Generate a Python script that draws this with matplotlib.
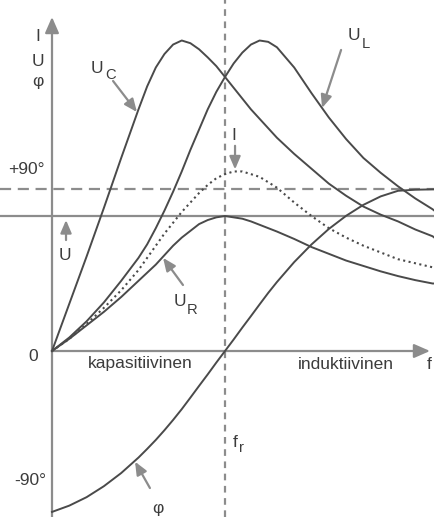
import numpy as np
import matplotlib
matplotlib.use('Agg')
import matplotlib.pyplot as plt

plt.rcParams['font.family'] = ['Liberation Sans', 'DejaVu Sans']

# ─────────────────────────────────────────────
# SERIES RLC RESONANCE CURVES (f in units of f_r, voltages in units of U)
# ─────────────────────────────────────────────
f = [0, 0.1, 0.2, 0.3, 0.4, 0.5, 0.55, 0.6, 0.65, 0.7, 0.75, 0.8, 0.85, 0.9,
     0.95, 1.0, 1.05, 1.1, 1.15, 1.2, 1.25, 1.3, 1.4, 1.5, 1.6, 1.7, 1.8,
     1.9, 2.0, 2.1, 2.2, 2.21]

U_C = [0, 0.35, 0.70, 1.06, 1.43, 1.79, 1.96, 2.10, 2.20, 2.27, 2.30, 2.28,
       2.235, 2.175, 2.11, 2.03, 1.95, 1.87, 1.79, 1.72, 1.65, 1.58, 1.46,
       1.35, 1.24, 1.15, 1.07, 1.01, 0.96, 0.90, 0.85, 0.84]

U_L = [0, 0.10, 0.22, 0.36, 0.52, 0.69, 0.79, 0.91, 1.04, 1.18, 1.33, 1.49,
       1.64, 1.79, 1.92, 2.03, 2.13, 2.21, 2.27, 2.30, 2.29, 2.25, 2.10,
       1.91, 1.73, 1.57, 1.43, 1.32, 1.22, 1.13, 1.05, 1.04]

I = [0, 0.09, 0.20, 0.32, 0.45, 0.60, 0.69, 0.78, 0.87, 0.95, 1.03, 1.10,
     1.17, 1.23, 1.28, 1.31, 1.33, 1.33, 1.31, 1.29, 1.25, 1.21, 1.10,
     1.00, 0.91, 0.84, 0.78, 0.73, 0.68, 0.65, 0.62, 0.62]

U_R = [0, 0.09, 0.19, 0.29, 0.40, 0.52, 0.58, 0.64, 0.71, 0.78, 0.84, 0.89,
       0.94, 0.97, 0.99, 1.00, 0.99, 0.98, 0.96, 0.935, 0.91, 0.885, 0.83,
       0.77, 0.72, 0.67, 0.63, 0.59, 0.555, 0.525, 0.50, 0.50]

phi_deg = [-89.4, -85.9, -81.2, -75.1, -67.8, -59.2, -54.4, -49.4, -44.0,
           -38.3, -32.3, -25.9, -19.4, -13.0, -6.4, 0, 6.4, 13.0, 19.4, 25.9,
           32.3, 38.3, 49.4, 59.2, 67.8, 75.1, 81.2, 85.9, 89.0, 89.6, 89.8,
           89.8]

U = 1.0
PHI90 = 1.2      # height of the +90 deg line on the voltage scale

CURVE = '#4a4a4a'
GUIDE = '#8c8c8c'
TEXT = '#3c3c3c'

fig = plt.figure(figsize=(4.34, 5.17), dpi=100)
ax = fig.add_axes([0, 0, 1, 1])
ax.set_xlim(-0.3006, 2.2081)
ax.set_ylim(-1.2296, 2.6)
ax.axis('off')

# guide lines
ax.axhline(U, color=GUIDE, lw=1.6, zorder=1)
ax.axhline(PHI90, color=GUIDE, lw=1.6, dashes=(5, 3), zorder=1)
ax.axvline(1.0, color=GUIDE, lw=1.6, dashes=(3, 2.5), zorder=1)

# coordinate axes with arrow heads
axis_arrow = dict(arrowstyle='-|>,head_length=0.8,head_width=0.35',
                  color=GUIDE, lw=1.6, shrinkA=0, shrinkB=0, mutation_scale=12)
ax.annotate('', xy=(2.185, 0), xytext=(0, 0), arrowprops=axis_arrow, zorder=2)
ax.annotate('', xy=(0, 2.474), xytext=(0, -1.23), arrowprops=axis_arrow, zorder=2)

# curves
phi_plot = np.array(phi_deg) / 90 * PHI90
for y in (U_C, U_L, U_R):
    ax.plot(f, y, color=CURVE, lw=1.4, solid_joinstyle='round', zorder=3)
ax.plot(f, phi_plot, color=CURVE, lw=1.4, solid_joinstyle='round', zorder=3)
ax.plot(f, I, color=CURVE, lw=1.5, ls=':', zorder=3)

# pointer arrows to the curves
ptr = dict(arrowstyle='-|>,head_length=0.7,head_width=0.3',
           color=GUIDE, lw=1.6, shrinkA=0, shrinkB=0, mutation_scale=11)
for tail, tip in [((0.353, 2.0), (0.491, 1.77)),
                  ((1.671, 2.23), (1.561, 1.80)),
                  ((0.757, 0.489), (0.642, 0.69)),
                  ((0.081, 0.822), (0.081, 0.97)),
                  ((0.566, -1.015), (0.480, -0.82)),
                  ((1.058, 1.52), (1.058, 1.345))]:
    ax.annotate('', xy=tip, xytext=tail, arrowprops=ptr, zorder=4)

fs = 12.5
txt = dict(color=TEXT, fontsize=fs, ha='center', va='center')


def label(x, y, main, sub=None, dx=8.5, dy=-5.5):
    ax.text(x, y, main, **txt)
    if sub:
        ax.annotate(sub, (x, y), xytext=(dx, dy), textcoords='offset points',
                    color=TEXT, fontsize=fs * 0.85, ha='center', va='center')


# axis labels
label(-0.081, 2.326, 'I')
label(-0.081, 2.148, 'U')
label(-0.081, 1.993, 'φ')
label(-0.150, 1.341, '+90°')
label(-0.107, -0.041, '0')
label(-0.127, -0.956, '-90°')
ax.text(0.208, -0.126, 'kapasitiivinen', color=TEXT, fontsize=fs,
        ha='left', va='baseline')
ax.text(1.422, -0.133, 'induktiivinen', color=TEXT, fontsize=fs,
        ha='left', va='baseline')
ax.text(2.168, -0.133, 'f', color=TEXT, fontsize=fs, ha='left', va='baseline')
ax.text(1.046, -0.711, 'f', color=TEXT, fontsize=fs, ha='left', va='baseline')
ax.text(1.083, -0.748, 'r', color=TEXT, fontsize=fs * 0.85, ha='left',
        va='baseline')

# curve labels
label(0.260, 2.093, 'U', 'C', dx=9.5, dy=-4.5)
label(1.746, 2.337, 'U', 'L', dx=8.5, dy=-6)
label(0.740, 0.367, 'U', 'R', dx=9, dy=-6.5)
label(0.075, 0.704, 'U')
label(0.613, -1.163, 'φ')
label(1.052, 1.600, 'I')

fig.savefig('out.png', dpi=100)
